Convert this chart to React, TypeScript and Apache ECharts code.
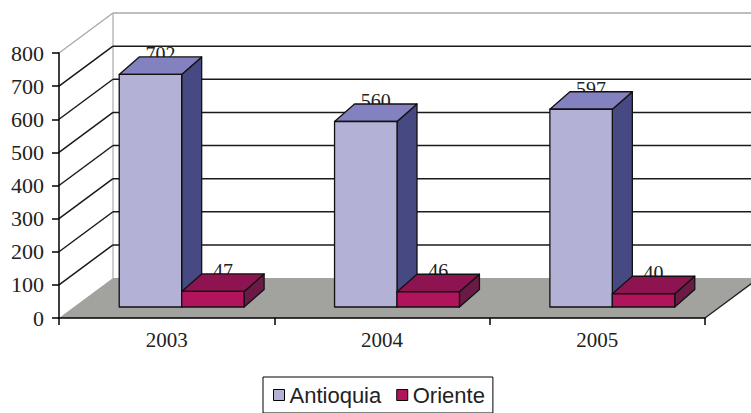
import React, { useEffect, useRef } from "react";
import * as echarts from "echarts";

const categories = ["2003", "2004", "2005"];
const antioquia = [702, 560, 597];
const oriente = [47, 46, 40];
const yTicks = [0, 100, 200, 300, 400, 500, 600, 700, 800];

const FLOOR_DX = 54;
const FLOOR_DY = -40;
const BAR_FRONT_DX = 15;
const BAR_FRONT_DY = -11;
const BAR_DX = 20;
const BAR_DY = -17.5;
const BAR_RATIO = 0.29;

const SERIF = "Liberation Serif, Times New Roman, serif";
const SANS = "Liberation Sans, Arial, sans-serif";

function frameRender(params: any, api: any) {
  const bw = api.size([1, 0])[0];
  const L = api.coord([0, 0])[0] - bw / 2;
  const R = api.coord([categories.length - 1, 0])[0] + bw / 2;
  const yOf = (v: number) => api.coord([0, v])[1];
  const yMax = yTicks[yTicks.length - 1];
  const y0 = yOf(0);
  const yT = yOf(yMax);
  const children: any[] = [];
  children.push({
    type: "polygon",
    shape: { points: [[L, yT], [L + FLOOR_DX, yT + FLOOR_DY], [L + FLOOR_DX, y0 + FLOOR_DY], [L, y0]] },
    style: { fill: "#ffffff", stroke: null },
  });
  children.push({
    type: "rect",
    shape: { x: L + FLOOR_DX, y: yT + FLOOR_DY, width: R - L, height: y0 - yT },
    style: { fill: "#ffffff", stroke: null },
  });
  children.push({
    type: "polygon",
    shape: { points: [[L, y0], [R, y0], [R + FLOOR_DX, y0 + FLOOR_DY], [L + FLOOR_DX, y0 + FLOOR_DY]] },
    style: { fill: "#a2a29e", stroke: null },
  });
  children.push({
    type: "line",
    shape: { x1: R, y1: y0, x2: R + FLOOR_DX, y2: y0 + FLOOR_DY },
    style: { stroke: "#222", lineWidth: 1.3 },
  });
  children.push({
    type: "line",
    shape: { x1: L + FLOOR_DX, y1: yT + FLOOR_DY, x2: L + FLOOR_DX, y2: y0 + FLOOR_DY },
    style: { stroke: "#9a9a9a", lineWidth: 1 },
  });
  yTicks.forEach((v) => {
    if (v === 0) return;
    const y = yOf(v);
    const isTop = v === yMax;
    const color = isTop ? "#a8a8a8" : "#1a1a1a";
    const lw = isTop ? 1.3 : 1.5;
    children.push({
      type: "line",
      shape: { x1: L + FLOOR_DX, y1: y + FLOOR_DY, x2: R + FLOOR_DX + 10, y2: y + FLOOR_DY },
      style: { stroke: color, lineWidth: lw },
    });
    children.push({
      type: "line",
      shape: { x1: L, y1: y, x2: L + FLOOR_DX, y2: y + FLOOR_DY },
      style: { stroke: color, lineWidth: lw },
    });
  });
  return { type: "group", children };
}

function makeBarRender(slot: number, colors: { front: string; top: string; side: string }) {
  return function (params: any, api: any) {
    const idx = api.value(0);
    const v = api.value(1);
    const c = api.coord([idx, 0]);
    const t = api.coord([idx, v]);
    const bw = api.size([1, 0])[0];
    const w = bw * BAR_RATIO;
    const groupLeft = c[0] - w + BAR_FRONT_DX;
    const x0 = groupLeft + slot * w;
    const x1 = x0 + w;
    const yb = c[1] + BAR_FRONT_DY;
    const yt = t[1] + BAR_FRONT_DY;
    const stroke = { stroke: "#111", lineWidth: 1.3, lineJoin: "round" };
    return {
      type: "group",
      children: [
        {
          type: "text",
          style: {
            text: String(v),
            x: (x0 + x1) / 2 + BAR_DX / 2,
            y: yt + BAR_DY - 3,
            align: "center",
            verticalAlign: "middle",
            fontFamily: SERIF,
            fontSize: 20,
            fill: "#222",
          },
        },
        {
          type: "polygon",
          shape: { points: [[x1, yt], [x1 + BAR_DX, yt + BAR_DY], [x1 + BAR_DX, yb + BAR_DY], [x1, yb]] },
          style: { fill: colors.side, ...stroke },
        },
        {
          type: "polygon",
          shape: { points: [[x0, yt], [x1, yt], [x1 + BAR_DX, yt + BAR_DY], [x0 + BAR_DX, yt + BAR_DY]] },
          style: { fill: colors.top, ...stroke },
        },
        {
          type: "rect",
          shape: { x: x0, y: yt, width: w, height: yb - yt },
          style: { fill: colors.front, ...stroke },
        },
      ],
    };
  };
}

export default function App() {
  const ref = useRef<HTMLDivElement>(null);
  useEffect(() => {
    if (!ref.current) return;
    const chart = echarts.init(ref.current, null, { renderer: "svg" });
    const antColors = { front: "#b4b1d7", top: "#8481c0", side: "#474a82" };
    const oriColors = { front: "#b0145d", top: "#8d1450", side: "#6b1a45" };
    chart.setOption({
      animation: false,
      backgroundColor: "#ffffff",
      grid: { left: 59, right: 46, top: 53, bottom: 95, containLabel: false },
      xAxis: {
        type: "category",
        data: categories,
        boundaryGap: true,
        axisLine: { show: true, lineStyle: { color: "#000", width: 1.5 } },
        axisTick: { show: true, length: 7, alignWithLabel: false, lineStyle: { color: "#000", width: 1.5 } },
        axisLabel: { fontFamily: SERIF, fontSize: 21, color: "#222", margin: 11 },
        splitLine: { show: false },
      },
      yAxis: {
        type: "value",
        min: 0,
        max: 800,
        interval: 100,
        axisLine: { show: true, lineStyle: { color: "#000", width: 1.5 } },
        axisTick: { show: true, length: 7, lineStyle: { color: "#000", width: 1.5 } },
        axisLabel: { fontFamily: SERIF, fontSize: 22, color: "#222", margin: 15 },
        splitLine: { show: false },
      },
      legend: {
        data: ["Antioquia", "Oriente"],
        left: 263,
        top: 377,
        orient: "horizontal",
        icon: "rect",
        itemWidth: 11,
        itemHeight: 11,
        itemGap: 15,
        borderColor: "#000",
        borderWidth: 1,
        padding: [7, 8, 7, 10],
        selectedMode: false,
        itemStyle: { borderColor: "#000", borderWidth: 1 },
        textStyle: { fontFamily: SANS, fontSize: 22, color: "#222" },
      },
      series: [
        {
          type: "custom",
          name: "frame",
          coordinateSystem: "cartesian2d",
          z: -1,
          silent: true,
          clip: false,
          data: [[0, 0]],
          renderItem: frameRender,
        },
        {
          type: "custom",
          name: "Antioquia",
          coordinateSystem: "cartesian2d",
          silent: true,
          clip: false,
          itemStyle: { color: antColors.front },
          encode: { x: 0, y: 1 },
          data: antioquia.map((v, i) => [i, v]),
          renderItem: makeBarRender(0, antColors),
        },
        {
          type: "custom",
          name: "Oriente",
          coordinateSystem: "cartesian2d",
          silent: true,
          clip: false,
          itemStyle: { color: oriColors.front },
          encode: { x: 0, y: 1 },
          data: oriente.map((v, i) => [i, v]),
          renderItem: makeBarRender(1, oriColors),
        },
      ],
    });
    return () => chart.dispose();
  }, []);
  return (
    <div
      ref={ref}
      style={{ position: "fixed", left: 0, top: 0, width: 751, height: 413, background: "#fff" }}
    />
  );
}
